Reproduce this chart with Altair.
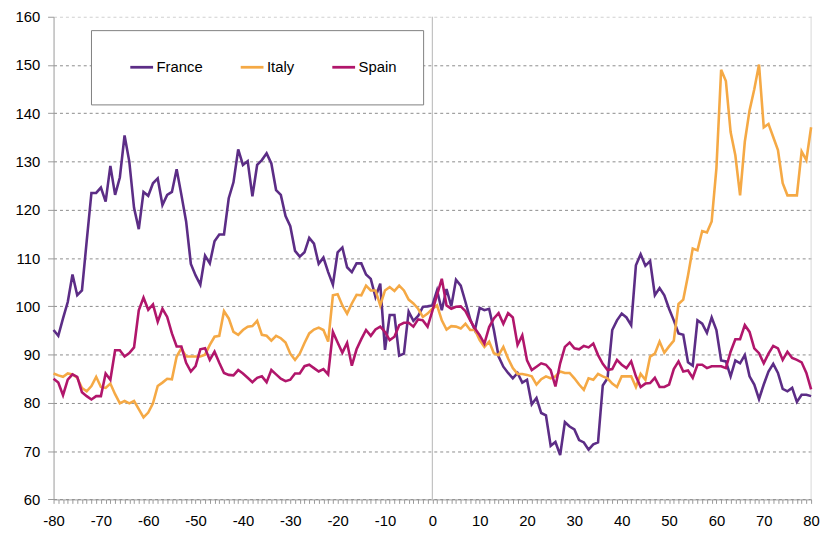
import altair as alt
import pandas as pd

x_values = list(range(-80, 81))

france = [
    95.1, 93.9, 97.5, 100.9, 106.6, 102.3, 103.3, 113.5, 123.5, 123.5,   # -80..-71
    124.6, 121.7, 129.1, 123.1, 126.7, 135.4, 130.0, 120.4, 116.0, 123.7,  # -70..-61
    122.9, 125.5, 126.5, 121.0, 123.1, 123.7, 128.4, 123.1, 117.6, 108.8,  # -60..-51
    106.4, 104.5, 110.5, 108.9, 113.5, 114.9, 114.9, 122.4, 125.7, 132.5,  # -50..-41
    129.3, 130.1, 122.8, 129.3, 130.3, 131.7, 129.6, 124.1, 123.1, 118.7,  # -40..-31
    116.6, 111.5, 110.3, 111.2, 114.2, 113.0, 108.8, 110.1, 107.1, 104.5,  # -30..-21
    111.2, 112.2, 108.1, 107.1, 108.9, 108.9, 106.6, 105.7, 101.9, 104.7,  # -20..-11
    91.0, 98.2, 98.2, 89.8, 90.2, 98.9, 97.0, 98.0, 99.9, 100.0,           # -10..-1
    100.2,                                                                 # 0
    103.3, 99.2, 103.6, 100.0, 105.5, 104.3, 100.9, 97.3, 95.1, 99.7,      # 1..10
    99.2, 99.5, 95.1, 89.6, 87.5, 86.2, 85.1, 86.2, 84.2, 84.8,            # 11..20
    79.7, 81.0, 77.9, 77.4, 71.1, 71.9, 69.2, 76.0, 75.1, 74.5,            # 21..30
    72.3, 71.8, 70.3, 71.4, 71.8, 83.6, 85.1, 95.1, 97.1, 98.5,            # 31..40
    97.7, 96.1, 108.5, 110.8, 108.4, 109.4, 102.3, 103.8, 102.3, 99.5,     # 41..50
    97.1, 94.4, 94.1, 88.4, 87.7, 97.1, 96.4, 94.5, 97.7, 95.1,            # 51..60
    88.8, 88.6, 85.5, 88.8, 88.2, 89.9, 85.5, 83.8, 80.8, 83.8,            # 61..70
    86.5, 88.1, 86.2, 82.9, 82.4, 83.1, 80.2, 81.7, 81.7, 81.4,            # 71..80
]

italy = [
    86.1, 85.7, 85.4, 86.1, 85.9, 85.2, 83.1, 82.4, 83.5, 85.4,
    83.3, 83.1, 84.0, 81.8, 79.9, 80.4, 79.9, 80.4, 78.7, 77.0,
    78.0, 79.9, 83.5, 84.2, 85.0, 84.9, 89.6, 91.3, 89.6, 89.6,
    89.6, 89.6, 90.0, 92.0, 93.7, 93.9, 99.0, 97.5, 94.7, 94.1,
    95.1, 95.8, 95.9, 97.0, 94.1, 93.9, 92.9, 93.9, 93.4, 92.5,
    90.2, 88.9, 90.2, 92.4, 94.4, 95.2, 95.6, 95.1, 92.7, 102.3,
    102.5, 100.2, 98.5, 100.6, 102.4, 102.3, 104.3, 103.3, 103.3, 100.2,
    103.3, 104.0, 103.2, 104.3, 103.3, 101.4, 100.6, 99.5, 97.8, 98.5,
    99.5,
    100.2, 97.1, 95.2, 95.9, 95.8, 95.4, 96.4, 95.1, 95.1, 93.0,
    91.6, 92.7, 90.3, 89.9, 91.6, 89.2, 87.2, 86.0, 86.0, 85.8,
    85.5, 83.8, 84.9, 85.5, 85.1, 85.5, 86.5, 86.2, 86.2, 85.1,
    83.8, 82.7, 85.1, 84.8, 86.0, 85.5, 85.1, 84.0, 83.3, 85.5,
    85.5, 85.5, 83.3, 86.0, 84.8, 89.6, 90.2, 92.7, 90.4, 91.7,
    92.9, 100.5, 101.4, 106.4, 112.0, 111.6, 115.6, 115.3, 117.6, 128.6,
    149.0, 146.7, 136.1, 131.3, 123.0, 134.1, 140.6, 145.0, 150.1, 137.1,
    137.8, 135.1, 132.4, 125.5, 123.0, 123.0, 123.0, 132.1, 130.3, 137.1,
]

spain = [
    85.0, 84.2, 81.6, 84.8, 85.9, 85.4, 82.2, 81.4, 80.7, 81.4,
    81.4, 86.1, 84.8, 90.9, 90.9, 89.6, 90.3, 91.5, 99.2, 101.8,
    99.3, 100.4, 96.8, 99.5, 97.8, 94.4, 91.7, 91.7, 88.3, 86.5,
    87.6, 91.1, 91.3, 88.9, 90.6, 88.3, 86.2, 85.8, 85.7, 86.8,
    86.1, 85.2, 84.3, 85.2, 85.5, 84.3, 86.8, 85.9, 85.0, 84.5,
    84.8, 86.1, 86.1, 87.6, 87.9, 87.2, 86.5, 87.0, 85.9, 94.7,
    92.5, 90.4, 92.4, 87.7, 91.1, 93.2, 95.1, 93.9, 95.2, 95.8,
    94.7, 93.0, 93.7, 96.1, 96.6, 96.6, 95.8, 97.3, 97.1, 95.8,
    99.0,
    102.4, 105.7, 100.2, 99.5, 99.9, 100.0, 99.0, 97.1, 95.4, 94.0,
    92.3, 95.7, 97.5, 98.6, 96.4, 98.6, 97.7, 92.0, 94.0, 88.8,
    86.8, 87.5, 88.2, 87.9, 86.8, 83.4, 88.2, 91.6, 92.5, 91.3,
    91.1, 91.8, 91.5, 92.3, 89.9, 88.1, 86.8, 87.0, 88.9, 87.9,
    87.2, 88.6, 85.5, 83.3, 84.0, 84.1, 85.2, 83.3, 83.3, 83.8,
    87.0, 88.6, 86.5, 86.7, 85.2, 87.9, 87.9, 87.2, 87.6, 87.6,
    87.6, 87.2, 90.6, 93.2, 93.2, 96.1, 94.7, 91.3, 90.3, 88.2,
    90.2, 91.8, 91.3, 88.9, 90.6, 89.3, 88.9, 88.4, 86.2, 82.8,
]

countries = ["France", "Italy", "Spain"]
colors = ["#5C2D86", "#F5A945", "#B1166B"]
series = {"France": france, "Italy": italy, "Spain": spain}

y_ticks = list(range(60, 161, 10))
ref_lines = [0]
border_lines = [80]

assert all(len(v) == len(x_values) for v in series.values())

rows = []
for c in countries:
    for xv, yv in zip(x_values, series[c]):
        rows.append({"x": xv, "value": yv, "country": c})
df = pd.DataFrame(rows)

FONT = "Liberation Sans, Arial, sans-serif"

x_scale = alt.Scale(domain=[-80, 80], nice=False, zero=False)
y_scale = alt.Scale(domain=[60, 160], nice=False, zero=False)

x_axis = alt.Axis(
    values=x_values,
    tickCount=len(x_values) + 10,
    labelExpr="(datum.value % 10 == 0) ? ('' + datum.value) : ''",
    tickSize=4,
    tickColor="#9a9a9a",
    domainColor="#9a9a9a",
    grid=False,
    labelFlush=False,
    labelOverlap=False,
    labelPadding=10,
    labelFont=FONT,
    labelFontSize=15,
    labelColor="#000000",
    title=None,
)

y_axis = alt.Axis(
    values=y_ticks,
    tickSize=6,
    tickColor="#9a9a9a",
    domainColor="#9a9a9a",
    grid=True,
    gridDash=[3, 3],
    gridColor={"condition": {"test": "datum.value === 160", "value": "#cfcfcf"}, "value": "#8c8c8c"},
    labelPadding=8,
    labelFont=FONT,
    labelFontSize=15,
    labelColor="#000000",
    title=None,
)

legend = alt.Legend(
    orient="none",
    legendX=76,
    legendY=38,
    direction="horizontal",
    title=None,
    symbolType="stroke",
    symbolSize=529,
    symbolStrokeWidth=2.8,
    labelOffset=2,
    columnPadding=31.5,
    padding=0,
    labelFont=FONT,
    labelFontSize=15,
    labelColor="#000000",
)

# legend frame (decoration)
frame = alt.Chart(pd.DataFrame({"a": [0]})).mark_rect(
    fill="white", stroke="#808080", strokeWidth=1
).encode(
    x=alt.value(38.3), x2=alt.value(373.7), y=alt.value(14), y2=alt.value(89)
)

zero_rule = alt.Chart(pd.DataFrame({"x": ref_lines})).mark_rule(
    color="#b4b4b4", strokeWidth=1
).encode(x=alt.X("x:Q", scale=x_scale, axis=x_axis))

right_rule = alt.Chart(pd.DataFrame({"x": border_lines})).mark_rule(
    color="#d9d9d9", strokeWidth=1
).encode(x=alt.X("x:Q", scale=x_scale, axis=x_axis))

lines = alt.Chart(df).mark_line(strokeWidth=2.6).encode(
    x=alt.X("x:Q", scale=x_scale, axis=x_axis),
    y=alt.Y("value:Q", scale=y_scale, axis=y_axis),
    color=alt.Color(
        "country:N",
        scale=alt.Scale(domain=countries, range=colors),
        legend=legend,
    ),
    order=alt.Order("x:Q"),
)

chart = alt.layer(zero_rule, right_rule, frame, lines).properties(
    width=765,
    height=487.4,
    autosize=alt.AutoSizeParams(type="none"),
    padding={"left": 46, "top": 6.3, "right": 10, "bottom": 26},
).configure_view(stroke=None)

chart.save("out.html", embed_options={"renderer": "svg", "actions": False})
